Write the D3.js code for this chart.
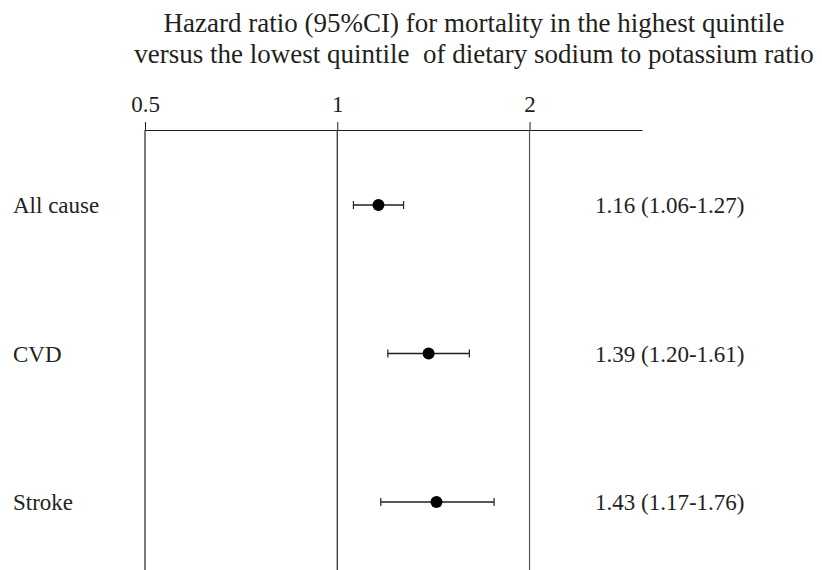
<!DOCTYPE html>
<html>
<head>
<meta charset="utf-8">
<script src="https://cdn.jsdelivr.net/npm/d3@7"></script>
<style>
  body { margin: 0; background: #fff; }
  text { font-family: "Liberation Serif", "Times New Roman", serif; fill: #231f20; }
</style>
</head>
<body>
<div id="chart"></div>
<script>
const outcomes = ['All cause', 'CVD', 'Stroke'];
const hazardRatio = [1.16, 1.39, 1.43];
const lowerCI = [1.06, 1.20, 1.17];
const upperCI = [1.27, 1.61, 1.76];
const ciLabels = ['1.16 (1.06-1.27)', '1.39 (1.20-1.61)', '1.43 (1.17-1.76)'];
const tickValues = [0.5, 1, 2];
const titleLines = [
    'Hazard ratio (95%CI) for mortality in the highest quintile',
    'versus the lowest quintile  of dietary sodium to potassium ratio'
];

let width = 822;
let height = 570;
let axisY = 130;
let fontSize = 23;
let titleSize = 27;

let svg = d3.select('#chart')
    .append('svg')
    .attr('width', width)
    .attr('height', height);

let x = d3.scaleLog()
    .domain([0.5, 3])
    .range([145, 642]);

let y = d3.scalePoint()
    .domain(outcomes)
    .range([205, 502]);

// title
svg.selectAll('.title')
    .data(titleLines)
    .enter()
    .append('text')
    .attr('class', 'title')
    .attr('x', 474)
    .attr('y', (d, i) => 32 + i * 31)
    .attr('text-anchor', 'middle')
    .style('font-size', titleSize + 'px')
    .style('white-space', 'pre')
    .text(d => d);

// top axis
let axis = svg.append('g')
    .attr('transform', 'translate(0,' + axisY + ')')
    .call(d3.axisTop(x)
        .tickValues(tickValues)
        .tickFormat(d3.format(''))
        .tickSize(8)
        .tickSizeOuter(0)
        .tickPadding(10));

axis.select('.domain').attr('stroke', '#231f20');
axis.selectAll('.tick line').attr('stroke', '#231f20');
axis.selectAll('.tick text')
    .style('font-family', '"Liberation Serif", serif')
    .style('font-size', fontSize + 'px')
    .attr('fill', '#231f20');

// reference lines
svg.selectAll('.ref')
    .data(tickValues)
    .enter()
    .append('line')
    .attr('class', 'ref')
    .attr('x1', d => x(d))
    .attr('x2', d => x(d))
    .attr('y1', axisY)
    .attr('y2', height)
    .attr('stroke', d => d === 2 ? '#555' : '#231f20')
    .attr('stroke-width', 1.2);

// rows
let rows = svg.selectAll('.row')
    .data(outcomes)
    .enter()
    .append('g')
    .attr('class', 'row')
    .attr('transform', d => 'translate(0,' + y(d) + ')');

rows.append('text')
    .attr('x', 13)
    .attr('dy', '0.35em')
    .style('font-size', fontSize + 'px')
    .text(d => d);

rows.append('line')
    .attr('x1', (d, i) => x(lowerCI[i]))
    .attr('x2', (d, i) => x(upperCI[i]))
    .attr('stroke', '#231f20')
    .attr('stroke-width', 1.5);

rows.append('line')
    .attr('x1', (d, i) => x(lowerCI[i]))
    .attr('x2', (d, i) => x(lowerCI[i]))
    .attr('y1', -4)
    .attr('y2', 4)
    .attr('stroke', '#231f20')
    .attr('stroke-width', 1.2);

rows.append('line')
    .attr('x1', (d, i) => x(upperCI[i]))
    .attr('x2', (d, i) => x(upperCI[i]))
    .attr('y1', -4)
    .attr('y2', 4)
    .attr('stroke', '#231f20')
    .attr('stroke-width', 1.2);

rows.append('circle')
    .attr('cx', (d, i) => x(hazardRatio[i]))
    .attr('r', 6)
    .attr('fill', '#000');

rows.append('text')
    .attr('x', 595)
    .attr('dy', '0.35em')
    .style('font-size', fontSize + 'px')
    .text((d, i) => ciLabels[i]);
</script>
</body>
</html>
